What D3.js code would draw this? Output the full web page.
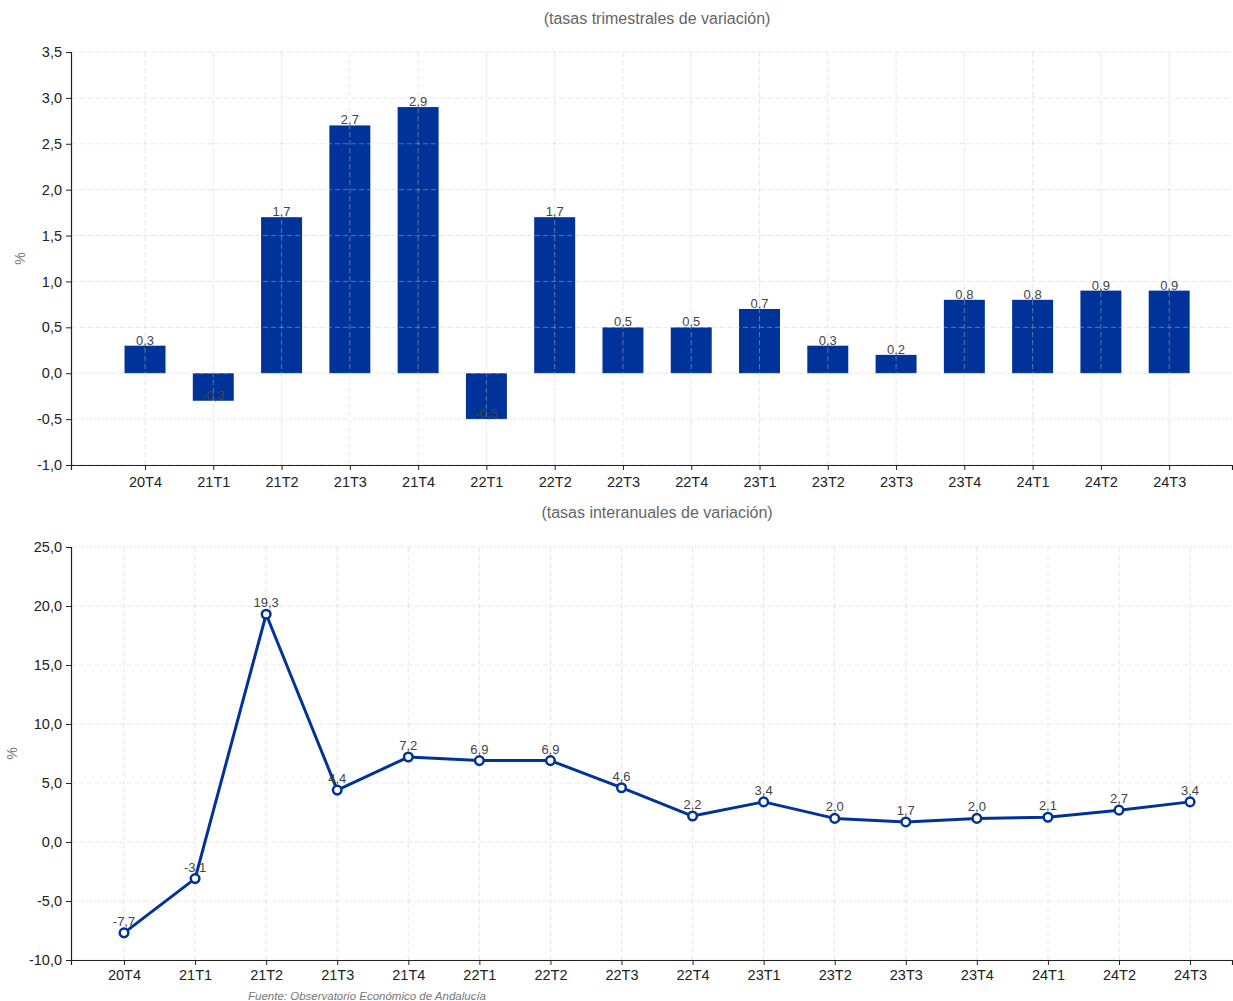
<!DOCTYPE html>
<html>
<head>
<meta charset="utf-8">
<script src="https://cdn.jsdelivr.net/npm/d3@7"></script>
<style>
  body { margin: 0; background: #fff; }
  svg text { font-family: "Liberation Sans", Arial, sans-serif; }
</style>
</head>
<body>
<div id="chart"></div>
<script>
// quarters shared by both panels
var quarters = ["20T4", "21T1", "21T2", "21T3", "21T4", "22T1", "22T2", "22T3",
                "22T4", "23T1", "23T2", "23T3", "23T4", "24T1", "24T2", "24T3"];
// quarterly change rates (%)
var trimestral = [0.3, -0.3, 1.7, 2.7, 2.9, -0.5, 1.7, 0.5, 0.5, 0.7, 0.3, 0.2, 0.8, 0.8, 0.9, 0.9];
// year-on-year change rates (%)
var interanual = [-7.7, -3.1, 19.3, 4.4, 7.2, 6.9, 6.9, 4.6, 2.2, 3.4, 2.0, 1.7, 2.0, 2.1, 2.7, 3.4];
var topTicks = [-1.0, -0.5, 0.0, 0.5, 1.0, 1.5, 2.0, 2.5, 3.0, 3.5];
var bottomTicks = [-10, -5, 0, 5, 10, 15, 20, 25];

var blue = "#003399";
var W = 1233, H = 1001;
var fmt1 = function(v) { return d3.format(".1f")(v).replace(".", ",").replace("−", "-"); };

var svg = d3.select("#chart").append("svg").attr("width", W).attr("height", H);

// set up one panel: scales and a group
function panel(opts) {
    var g = svg.append("g");
    var x = d3.scaleLinear().domain(opts.xdom).range([opts.left, opts.right]);
    var y = d3.scaleLinear().domain([opts.ticks[0], opts.ticks[opts.ticks.length - 1]])
              .range([opts.bottom, opts.top]);
    return { g: g, x: x, y: y, opts: opts };
}

// grid, axes, title, y label
function decorate(p) {
    var o = p.opts, g = p.g;
    var grid = g.append("g").attr("class", "grid");
    grid.selectAll(".gy").data(o.ticks).enter().append("line")
        .attr("x1", o.left).attr("x2", o.right)
        .attr("y1", function(d) { return p.y(d); }).attr("y2", function(d) { return p.y(d); })
        .attr("stroke", "rgba(200,200,200,0.45)").attr("stroke-dasharray", "5,3");
    grid.selectAll(".gx").data(quarters).enter().append("line")
        .attr("x1", function(d, i) { return p.x(i); }).attr("x2", function(d, i) { return p.x(i); })
        .attr("y1", o.top).attr("y2", o.bottom)
        .attr("stroke", "rgba(200,200,200,0.45)").attr("stroke-dasharray", "5,3");

    var xAxis = d3.axisBottom(p.x).tickValues(d3.range(quarters.length))
        .tickFormat(function(i) { return quarters[i]; }).tickSizeOuter(0).tickSize(5).tickPadding(o.xpad);
    var ax = g.append("g").attr("transform", "translate(0," + o.bottom + ")").call(xAxis);
    var yAxis = d3.axisLeft(p.y).tickValues(o.ticks).tickFormat(fmt1).tickSizeOuter(0).tickSize(5).tickPadding(4);
    var ay = g.append("g").attr("transform", "translate(" + o.left + ",0)").call(yAxis);
    [ax, ay].forEach(function(a) {
        a.selectAll("text").attr("font-size", 14.5).attr("fill", "#222");
        a.selectAll("line").attr("stroke", "#222");
        a.select(".domain").attr("stroke", "#222").attr("stroke-width", 1.2);
    });

    g.append("text").attr("x", 657).attr("y", o.titleY).attr("text-anchor", "middle")
        .attr("font-size", 16).attr("fill", "#666").text(o.title);
    g.append("text").attr("transform", "translate(" + o.ylabX + "," + ((o.top + o.bottom) / 2) + ") rotate(-90)")
        .attr("text-anchor", "middle").attr("font-size", 14).attr("fill", "#777").text("%");
}

// ---- top: bars
var p1 = panel({ left: 71, right: 1232, top: 52, bottom: 465, xdom: [-1.084, 15.92], xpad: 7,
                 ticks: topTicks, title: "(tasas trimestrales de variación)", titleY: 24, ylabX: 25 });
var bw = (p1.x(1) - p1.x(0)) * 0.6;
p1.g.selectAll(".bar").data(trimestral).enter().append("rect")
    .attr("x", function(d, i) { return p1.x(i) - bw / 2; })
    .attr("y", function(d) { return p1.y(Math.max(0, d)); })
    .attr("width", bw)
    .attr("height", function(d) { return Math.abs(p1.y(d) - p1.y(0)); })
    .attr("fill", blue);
decorate(p1);
p1.g.selectAll(".lab").data(trimestral).enter().append("text")
    .attr("x", function(d, i) { return p1.x(i); })
    .attr("y", function(d) { return p1.y(d) - 1; })
    .attr("text-anchor", "middle").attr("font-size", 13).attr("fill", "#444")
    .text(fmt1);

// ---- bottom: line
var p2 = panel({ left: 71, right: 1232, top: 547, bottom: 960, xdom: [-0.746, 15.59], xpad: 5,
                 ticks: bottomTicks, title: "(tasas interanuales de variación)", titleY: 518, ylabX: 17 });
decorate(p2);
var line = d3.line().x(function(d, i) { return p2.x(i); }).y(function(d) { return p2.y(d); });
p2.g.append("path").datum(interanual).attr("d", line)
    .attr("fill", "none").attr("stroke", blue).attr("stroke-width", 3).attr("stroke-linejoin", "round");
p2.g.selectAll(".pt").data(interanual).enter().append("circle")
    .attr("cx", function(d, i) { return p2.x(i); }).attr("cy", function(d) { return p2.y(d); })
    .attr("r", 4.3).attr("fill", "#fff").attr("stroke", blue).attr("stroke-width", 2.5);
p2.g.selectAll(".lab").data(interanual).enter().append("text")
    .attr("x", function(d, i) { return p2.x(i); })
    .attr("y", function(d) { return p2.y(d) - 7; })
    .attr("text-anchor", "middle").attr("font-size", 13).attr("fill", "#444")
    .text(fmt1);

svg.append("text").attr("x", 248).attr("y", 1000).attr("font-size", 11.5).attr("font-style", "italic")
    .attr("fill", "#777").text("Fuente: Observatorio Económico de Andalucía");
</script>
</body>
</html>
